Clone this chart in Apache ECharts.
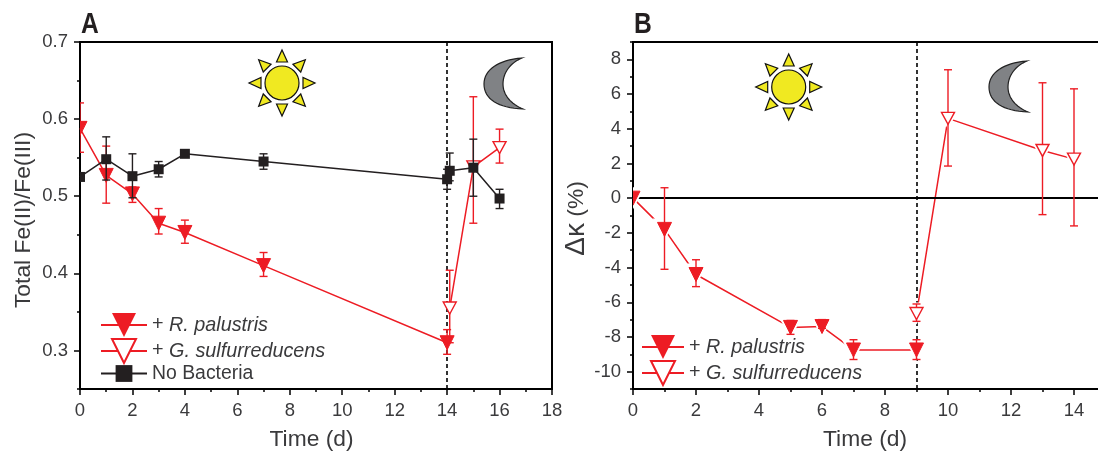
<!DOCTYPE html>
<html><head><meta charset="utf-8">
<style>html,body{margin:0;padding:0;background:#fff;overflow:hidden}#c{width:1098px;height:451px}</style>
<script src="https://cdn.jsdelivr.net/npm/echarts@6/dist/echarts.min.js"></script>
</head><body><div id="c"></div>
<script>
// ---- Panel A data
const aRpX=[0,1,2,3,4,7,14];
const aRpY=[0.588,0.527,0.503,0.465,0.453,0.410,0.310];
const aRpLo=[0.557,0.491,0.492,0.451,0.439,0.396,0.295];
const aRpHi=[0.621,0.565,0.512,0.484,0.469,0.427,0.327];
const aGsX=[14.1,15,16];
const aGsY=[0.355,0.538,0.563];
const aGsLo=[0.310,0.465,0.543];
const aGsHi=[0.404,0.629,0.587];
const aNbX=[0,1,2,3,4,7,14,14.1,15,16];
const aNbY=[0.525,0.548,0.526,0.535,0.555,0.545,0.522,0.533,0.537,0.497];
const aNbLo=[0.525,0.521,0.498,0.525,0.552,0.535,0.509,0.520,0.500,0.484];
const aNbHi=[0.525,0.577,0.555,0.545,0.558,0.555,0.535,0.556,0.574,0.509];
const aBoundary=14;
const aYMajor=[0.3,0.4,0.5,0.6,0.7];
// ---- Panel B data
const bRpX=[0,1,2,5,6,7,9];
const bRpY=[0,-1.8,-4.4,-7.45,-7.4,-8.75,-8.75];
const bRpLo=[0,-4.1,-5.1,-7.85,-7.5,-9.3,-9.3];
const bRpHi=[0,0.6,-3.55,-7.05,-7.0,-8.16,-8.16];
const bGsX=[9,10,13,14];
const bGsY=[-6.65,4.6,2.75,2.25];
const bGsLo=[-7.1,1.85,-0.95,-1.6];
const bGsHi=[-6.1,7.4,6.65,6.3];
const bBoundary=9;
const bYMajor=[-10,-8,-6,-4,-2,0,2,4,6,8];
const xLabel='Time (d)', aYLabel='Total Fe(II)/Fe(III)';
const bYLabel='{d|Δκ} (%)';
const nameRp='R. palustris', nameGs='G. sulfurreducens', nameNb='No Bacteria';

const RED='#ed1c24', BLK='#231f20', TXT='#3a3a3c', FONT='"Liberation Sans",Arial,sans-serif';
const chart=echarts.init(document.getElementById('c'),null,{renderer:'canvas'});
const DOWN='path://M0 0L10 0L5 10Z';

function rows(x,y,lo,hi){return x.map((v,i)=>[v,y[i],lo[i],hi[i]]);}
function marks(name,xi,yi,x,y,lo,hi,kind,halo,z){
  return {type:'custom',name:name+' marks',xAxisIndex:xi,yAxisIndex:yi,clip:true,z,silent:true,
    data:rows(x,y,lo,hi),encode:{x:0,y:1},
    renderItem(p,api){
      const X=api.value(0),c=api.coord([X,api.value(1)]),l=api.coord([X,api.value(2)]),h=api.coord([X,api.value(3)]);
      const col=kind==='sq'?BLK:RED, ch=[];
      const tri=(w,ht)=>[[c[0]-w/2,c[1]-ht/2],[c[0]+w/2,c[1]-ht/2],[c[0],c[1]+ht/2]];
      if(halo) ch.push({type:'polygon',shape:{points:tri(24,22)},style:{fill:'#fff'}});
      const ln=(a,b,d,e)=>ch.push({type:'line',shape:{x1:a,y1:b,x2:d,y2:e},style:{stroke:col,lineWidth:1.4,fill:null}});
      if(Math.abs(l[1]-h[1])>0.5){
        ln(l[0],l[1],h[0],h[1]);
        ln(l[0]-4,l[1],l[0]+4,l[1]);
        ln(h[0]-4,h[1],h[0]+4,h[1]);
      }
      if(kind==='sq') ch.push({type:'rect',shape:{x:c[0]-5,y:c[1]-5,width:10,height:10},style:{fill:BLK}});
      if(kind==='fill') ch.push({type:'polygon',shape:{points:tri(14,14)},style:{fill:RED,stroke:RED,lineWidth:1}});
      if(kind==='open') ch.push({type:'polygon',shape:{points:tri(13,12)},style:{fill:'#fff',stroke:RED,lineWidth:1.4}});
      return {type:'group',children:ch};
    }};
}
function line(name,xi,yi,x,y,kind,extra){
  const fill=kind==='open'?'#fff':(kind==='sq'?BLK:RED), col=kind==='sq'?BLK:RED;
  return Object.assign({type:'line',name,xAxisIndex:xi,yAxisIndex:yi,z:2,silent:true,clip:true,
    showSymbol:false,symbol:kind==='sq'?'rect':DOWN,
    data:x.map((v,i)=>[v,y[i]]),
    lineStyle:{color:col,width:1.5},
    itemStyle:{color:fill,borderColor:col,borderWidth:kind==='open'?1.5:0}},extra||{});
}
function vline(v){return {silent:true,symbol:'none',label:{show:false},animation:false,
  lineStyle:{color:'#000',type:[4,3],width:1.6},data:[{xAxis:v}]};}

function xAxis(grid,max,pad){return {type:'value',gridIndex:grid,min:0,max,interval:2,
  name:xLabel,nameLocation:'middle',nameGap:39,nameTextStyle:{fontSize:22.8,color:TXT,fontFamily:FONT,padding:pad},
  axisLine:{show:true,onZero:false,lineStyle:{color:'#000',width:2}},
  axisTick:{show:true,length:6,lineStyle:{color:'#000',width:1.5}},
  minorTick:{show:true,splitNumber:2,length:3,lineStyle:{color:'#000',width:1.5}},
  splitLine:{show:false},minorSplitLine:{show:false},
  axisLabel:{fontSize:18.5,color:TXT,fontFamily:FONT,margin:12,hideOverlap:false,showMinLabel:true}};}
function yMajor(grid,min,max,vals,name,gap,fmt,pad,rich){return {type:'value',gridIndex:grid,min,max,
  name,nameLocation:'middle',nameGap:gap,nameTextStyle:{fontSize:22.8,color:TXT,fontFamily:FONT,padding:pad,rich},
  axisLine:{show:true,onZero:false,lineStyle:{color:'#000',width:2}},
  axisTick:{show:true,length:6,customValues:vals,lineStyle:{color:'#000',width:1.5}},
  splitLine:{show:false},
  axisLabel:{fontSize:18.5,color:TXT,fontFamily:FONT,margin:12,customValues:vals,formatter:fmt}};}
function yMinor(grid,min,max,step){return {type:'value',gridIndex:grid,min,max,interval:step,position:'left',
  axisLine:{show:false,onZero:false},axisTick:{show:true,length:3,lineStyle:{color:'#000',width:1.5}},
  splitLine:{show:false},axisLabel:{show:false}};}

function sun(cx,cy){
  const out=[{type:'circle',shape:{cx,cy,r:17},style:{fill:'#f0e921',stroke:'#111',lineWidth:1.2},z:20}];
  for(let i=0;i<8;i++){
    const a=i*Math.PI/4,u=[Math.cos(a),Math.sin(a)],n=[-u[1],u[0]];
    const pt=(r,s)=>[cx+u[0]*r+n[0]*s,cy+u[1]*r+n[1]*s];
    out.push({type:'polygon',shape:{points:[pt(21,-5.5),pt(21,5.5),pt(33,0)]},
      style:{fill:'#f0e921',stroke:'#111',lineWidth:1.2},z:20});
  }
  return out;
}
function moon(x,y){
  const segs=[[[38,0],[14,2],[0,12],[0,26]],[[0,26],[0,41],[14,50],[39,51]],[[39,51],[27,46],[19,37],[19,26]],[[19,26],[19,15],[26,5],[38,0]]];
  const pts=[];
  segs.forEach(s=>{for(let k=0;k<16;k++){const t=k/16,m=1-t;
    pts.push([0,1].map(d=>m*m*m*s[0][d]+3*m*m*t*s[1][d]+3*m*t*t*s[2][d]+t*t*t*s[3][d]));}});
  return {type:'polygon',z:20,shape:{points:pts.map(p=>[p[0]+x,p[1]+y])},
    style:{fill:'#808285',stroke:'#222',lineWidth:1.2}};
}
function legendBase(extra){return Object.assign({orient:'vertical',selectedMode:false,itemWidth:46,itemHeight:30,itemGap:1,
  padding:0,align:'left',
  formatter:n=>n===nameNb?n:`{p|+ }{i|${n}}`,
  textStyle:{fontSize:19.4,color:TXT,fontFamily:FONT,
    rich:{p:{fontSize:19.8,color:TXT,fontFamily:FONT},i:{fontSize:19.8,fontStyle:'italic',color:TXT,fontFamily:FONT}}}},extra);}

chart.setOption({
  animation:false,backgroundColor:'#fff',textStyle:{fontFamily:FONT},
  grid:[
    {left:80,top:42,width:472,height:347,show:true,borderColor:'#000',borderWidth:2,backgroundColor:'transparent',containLabel:false,outerBoundsMode:'none'},
    {left:633,top:42,width:504,height:347,show:true,borderColor:'#000',borderWidth:2,backgroundColor:'transparent',containLabel:false,outerBoundsMode:'none'}
  ],
  xAxis:[xAxis(0,18,[0,9,0,0]),xAxis(1,16,[0,40,0,0])],
  yAxis:[
    yMajor(0,0.25,0.7,aYMajor,aYLabel,45,v=>v.toFixed(1),[0,9,0,0]),
    yMinor(0,0.25,0.7,0.05),
    yMajor(1,-11,9,bYMajor,bYLabel,29,v=>String(v),[0,6,0,0],{d:{fontSize:28,color:TXT,fontFamily:FONT}}),
    yMinor(1,-11,9,1)
  ],
  legend:[
    legendBase({left:100,top:313,data:[nameRp,nameGs]}),
    legendBase({left:100,top:364,itemHeight:21,data:[nameNb]}),
    legendBase({left:641,top:335,itemWidth:42,data:[nameRp,nameGs]})
  ],
  series:[
    line(nameRp,0,0,aRpX,aRpY,'fill',{markLine:vline(aBoundary)}),
    line(nameGs,0,0,aGsX,aGsY,'open'),
    line(nameNb,0,0,aNbX,aNbY,'sq'),
    marks(nameRp,0,0,aRpX,aRpY,aRpLo,aRpHi,'fill',false,5),
    marks(nameGs,0,0,aGsX,aGsY,aGsLo,aGsHi,'open',false,6),
    marks(nameNb,0,0,aNbX,aNbY,aNbLo,aNbHi,'sq',false,7),
    line(nameRp,1,2,bRpX,bRpY,'fill',{markLine:{silent:true,symbol:'none',label:{show:false},animation:false,
      data:[{yAxis:0,lineStyle:{color:'#000',type:'solid',width:2}},{xAxis:bBoundary,lineStyle:{color:'#000',type:[4,3],width:1.6}}]}}),
    line(nameGs,1,2,bGsX,bGsY,'open'),
    marks(nameRp,1,2,bRpX,bRpY,bRpLo,bRpHi,'fill',true,5),
    marks(nameGs,1,2,bGsX,bGsY,bGsLo,bGsHi,'open',true,6)
  ],
  graphic:[
    {type:'text',x:81,y:10,scaleX:0.85,z:20,style:{text:'A',fontSize:29,fontWeight:'bold',fontFamily:FONT,fill:BLK}},
    {type:'text',x:634,y:10,scaleX:0.85,z:20,style:{text:'B',fontSize:29,fontWeight:'bold',fontFamily:FONT,fill:BLK}},
    ...sun(282,83),...sun(788.7,87),
    moon(484,58),moon(989,61)
  ]
});
</script></body></html>
